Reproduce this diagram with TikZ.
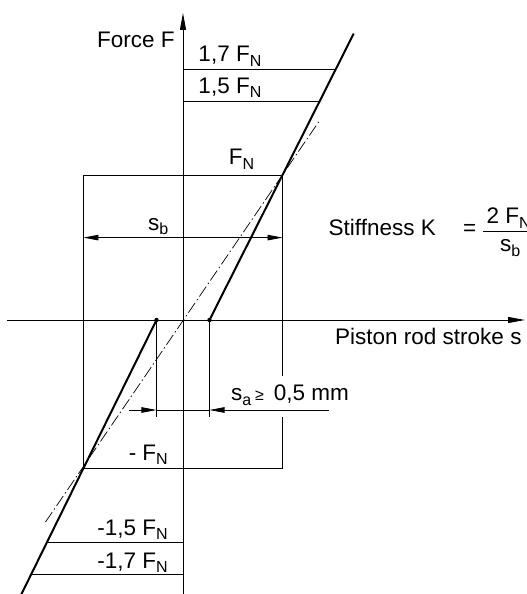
\documentclass[tikz,border=0pt]{standalone}
\usepackage{fontspec}
\setmainfont{Liberation Sans}
\usetikzlibrary{arrows.meta,calc}
\newcommand{\subtxt}[1]{\raisebox{-4.6pt}{\fontsize{16}{17}\selectfont #1}}

\begin{document}
\begin{tikzpicture}[x=1pt,y=1pt,font=\fontsize{22.5}{27}\selectfont,
  axis/.style={line width=0.9pt,-{Triangle[length=17pt,width=6pt]}},
  thinline/.style={line width=0.8pt},
  curve/.style={line width=2pt},
  centreline/.style={line width=0.7pt,dash pattern=on 12pt off 3pt on 1.5pt off 3pt},
  dimtip/.style={line width=0.8pt,-{Triangle[length=15pt,width=5.5pt]}},
  lbl/.style={inner sep=0pt}]
  \useasboundingbox (-183,-274) rectangle (344,320);
  \clip (-183,-274) rectangle (344,320);

  % axes and points
  \coordinate (O) at (0,0);
  \coordinate (xL) at (-176,0);
  \coordinate (xR) at (342,0);
  \coordinate (yB) at (0,-276);
  \coordinate (yT) at (0,307);
  \coordinate (kL) at (-26.5,0);
  \coordinate (kR) at (26.5,0);
  \coordinate (cTL) at (-99.5,145);
  \coordinate (cTR) at (99.5,145);
  \coordinate (cBL) at (-99.5,-148);
  \coordinate (cBR) at (99.5,-148);
  \coordinate (gapT) at (99.5,-55.7);
  \coordinate (gapB) at (99.5,-96.7);
  \coordinate (upEnd) at (170.7,286.4);
  \coordinate (loEnd) at (-162.5,-276);
  \coordinate (up17) at (152.6,250.4);
  \coordinate (up15) at (136.5,218.5);
  \coordinate (lo15) at (-136.4,-222.7);
  \coordinate (lo17) at (-151.8,-254);
  \coordinate (clB) at (-137.5,-202);
  \coordinate (clT) at (135.8,198.3);
  \coordinate (sbL) at (-99.5,82.4);
  \coordinate (sbR) at (99.5,82.4);
  \coordinate (saL) at (-54,-90);
  \coordinate (saA) at (-26.5,-90);
  \coordinate (saB) at (26.5,-90);
  \coordinate (saR) at (146,-90);
  \coordinate (exL) at (-26.5,-96.7);
  \coordinate (exR) at (26.5,-96.7);
  \coordinate (fracL) at (300,89);
  \coordinate (fracR) at (360,89);

  \draw[axis] (xL) -- (xR);
  \draw[axis] (yB) -- (yT);

  % force levels
  \draw[thinline] (up17 -| O) -- (up17);
  \draw[thinline] (up15 -| O) -- (up15);
  \draw[thinline] (lo15) -- (lo15 -| O);
  \draw[thinline] (lo17) -- (lo17 -| O);
  \draw[thinline] (gapT) -- (cTR) -- (cTL) -- (cBL) -- (cBR) -- (gapB);

  % characteristic
  \draw[centreline] (clB) -- (clT);
  \draw[curve] (kR) -- (upEnd);
  \draw[curve] (kL) -- (loEnd);
  \fill (kL) circle (2.2pt);
  \fill (kR) circle (2.2pt);

  % dimensions
  \draw[thinline,{Triangle[length=15pt,width=5.5pt]}-{Triangle[length=15pt,width=5.5pt]}] (sbL) -- (sbR);
  \draw[thinline] (kL) -- (exL);
  \draw[thinline] (kR) -- (exR);
  \draw[dimtip] (saL) -- (saA);
  \draw[thinline] (saA) -- (saB);
  \draw[dimtip] (saR) -- (saB);
  \draw[thinline] (fracL) -- (fracR);

  \node[lbl,anchor=base east] (lblForce) at (-8.2,272) {Force F};
  \node[lbl,anchor=base west] (lblUp17) at (15.3,258.5) {1,7 F\subtxt{N}};
  \node[lbl,anchor=base west] (lblUp15) at (15.3,226.8) {1,5 F\subtxt{N}};
  \node[lbl,anchor=base west] (lblFN) at (45.6,155.3) {F\subtxt{N}};
  \node[lbl,anchor=base west] (lblSb) at (-35,89.7) {s\subtxt{b}};
  \node[lbl,anchor=base west] (lblStiff) at (145.5,84.6) {Stiffness K};
  \node[lbl,anchor=base west] (lblEq) at (280,84.6) {=};
  \node[lbl,anchor=base west] (lblNum) at (303.5,96.4) {2 F\subtxt{N}};
  \node[lbl,anchor=base west] (lblDen) at (317,68) {s\subtxt{b}};
  \node[lbl,anchor=base west] (lblStroke) at (152,-24.6) {Piston rod stroke s};
  \node[lbl,anchor=base west] (lblSa) at (48,-80.8) {s\subtxt{a}\,{\fontsize{16}{18}\selectfont ≥}\, 0,5 mm};
  \node[lbl,anchor=base east] (lblDownFN) at (-15,-140) {- F\subtxt{N}};
  \node[lbl,anchor=base east] (lblDown15) at (-15,-215) {-1,5 F\subtxt{N}};
  \node[lbl,anchor=base east] (lblDown17) at (-15,-248) {-1,7 F\subtxt{N}};
\end{tikzpicture}
\end{document}
